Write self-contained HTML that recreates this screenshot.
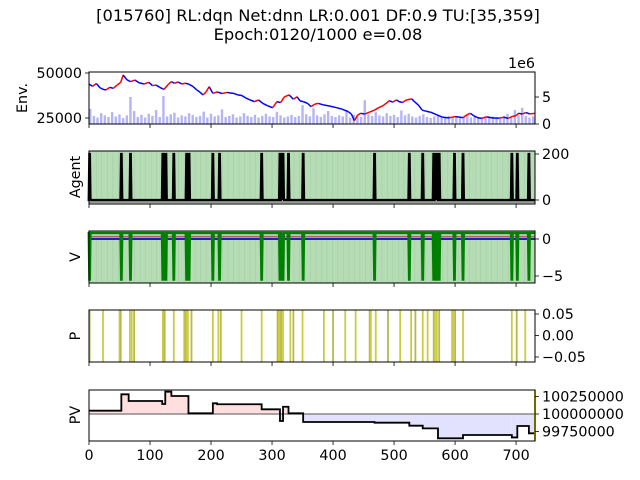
<!DOCTYPE html>
<html><head><meta charset="utf-8"><style>
body{margin:0;background:#fff}
svg{display:block;font-family:"DejaVu Sans","Liberation Sans",sans-serif}
</style></head><body>
<svg id="c" width="640" height="480" viewBox="0 0 640 480">
<text x="318" y="21" font-size="16.3" text-anchor="middle">[015760] RL:dqn Net:dnn LR:0.001 DF:0.9 TU:[35,359]</text>
<text x="318" y="40" font-size="16.3" text-anchor="middle">Epoch:0120/1000 e=0.08</text>
</svg>
<script>
// ---- data ----
const priceIdx=[0,6,12,18,24,28,34,40,46,52,56,62,68,75,82,90,98,104,110,116,123,130,135,140,146,152,158,163,170,176,182,187,192,197,203,210,218,226,232,237,244,250,256,263,271,278,285,292,301,308,314,320,328,335,341,346,351,358,364,370,376,385,395,405,415,425,430,435,440,445,452,460,468,475,482,488,492,498,504,508,514,520,529,534,540,546,552,560,570,580,590,600,613,620,625,630,636,643,652,662,672,680,687,694,700,704,710,716,722,731];
const priceVal=[43900,42600,44200,41800,40800,40600,42000,41500,43300,44800,48900,46300,45200,46100,44600,43900,44800,43000,43300,42000,40900,43700,45200,44300,45000,43900,44300,43900,42600,40800,39300,37800,39600,42400,38700,39500,38600,39200,38900,38700,37800,37600,36300,35200,34100,35000,33100,31900,30700,34100,33500,36700,37800,35400,36800,34500,34100,33200,31300,32700,33100,32200,31600,30800,29900,28500,27200,23500,26500,27600,27200,28300,29400,30800,31900,33400,34600,33800,35100,34100,33600,35000,35600,33900,32100,29400,28800,28200,26800,25400,25100,25800,25200,26900,27600,26400,25300,24800,25600,25000,24900,25400,24800,25900,26300,27600,27200,28000,27300,27600];
const volume=[2.8,1.5,1.2,2.0,1.6,1.3,2.2,1.4,1.8,1.1,1.6,5.0,2.4,1.3,1.7,1.2,1.9,1.5,2.6,1.3,5.2,1.4,1.8,2.1,1.2,1.6,1.4,2.0,1.7,1.3,1.5,2.3,1.2,1.9,1.4,1.6,2.7,1.3,1.5,1.8,1.2,1.4,2.0,1.5,1.3,1.7,1.2,1.5,1.9,1.4,1.3,2.2,1.6,1.2,1.4,1.7,1.3,1.5,3.5,1.8,1.4,2.9,1.6,1.3,1.8,2.4,1.5,1.3,1.6,1.4,2.6,1.2,1.7,1.4,1.3,4.4,1.8,1.5,2.2,1.6,1.4,2.0,1.5,1.7,1.3,2.5,1.6,1.9,1.4,1.2,1.5,1.8,1.3,1.1,1.4,1.6,1.2,1.3,1.5,1.2,1.4,1.1,1.3,1.6,1.2,1.4,1.1,1.3,1.5,1.2,1.4,1.2,1.3,1.5,1.9,1.4,2.6,1.6,3.0,1.5,1.2,1.4];
const volStep=6;
const tradeIdx=[1,53,68,121,122,124,126,139,160,162,164,203,214,283,313,315,318,327,351,468,525,547,565,567,570,574,599,613,693,702,721];
const probIdx=[1,23,50,52,67,70,74,121,122,124,139,156,158,160,162,168,203,212,216,250,283,309,311,313,315,318,330,335,350,385,400,420,437,460,462,470,490,510,528,535,547,555,565,567,570,574,595,597,600,613,693,701,715];
const pvStart=[0,53,65,120,125,135,163,203,210,283,313,318,327,351,468,525,547,572,613,693,702,721];
const pvVal=[100047000,100281000,100186000,100143000,100319000,100257000,100010000,100153000,100139000,100067000,99900000,100104000,100010000,99886000,99876000,99833000,99795000,99653000,99700000,99665000,99829000,99724000];
const xTicks=[0,100,200,300,400,500,600,700];

const svg=document.getElementById('c');
const NS='http://www.w3.org/2000/svg';
function el(t,a,p){const e=document.createElementNS(NS,t);for(const k in a)e.setAttribute(k,a[k]);(p||svg).appendChild(e);return e;}
const L=89,R=535,XMAX=731,FS=14.3;
const X=i=>L+i*(R-L)/XMAX;
const panels=[[72,124],[151,204],[231,283],[310,362],[390,441]];
function lin(d0,d1,p0,p1){return v=>p0+(v-d0)*(p1-p0)/(d1-d0);}

panels.forEach(pp=>{
  for(const t of xTicks){
    const tk=el('line',{x1:X(t),x2:X(t),y1:pp[1],y2:pp[1]+4,stroke:'#000','stroke-width':0.8});
    
    
  }
});

// Panel 1
const Py=lin(50000,25000,73,118), Vy=lin(0,5,124,97);
const g1=el('g',{});


volume.forEach((v,j)=>{
  const b=el('rect',{x:X(j*volStep),y:Vy(v),width:2.4,height:124-Vy(v),fill:'#b4b4f6'},g1);
  
  
});
for(let j=0;j<priceIdx.length-1;j++){
  const s=el('line',{x1:X(priceIdx[j]),y1:Py(priceVal[j]),x2:X(priceIdx[j+1]),y2:Py(priceVal[j+1]),stroke:priceVal[j+1]>priceVal[j]?'#f00':'#00f','stroke-width':1.5},g1);
  
  
}
[[50000,'50000'],[25000,'25000']].forEach(([v,t])=>{
  el('line',{x1:L-4,x2:L,y1:Py(v),y2:Py(v),stroke:'#000','stroke-width':0.8});
  const tx=el('text',{x:L-7,y:Py(v)+5,'font-size':FS,'text-anchor':'end'});tx.textContent=t;
  
  
});
[[0,'0'],[5,'5']].forEach(([v,t])=>{
  el('line',{x1:R,x2:R+4,y1:Vy(v),y2:Vy(v),stroke:'#000','stroke-width':0.8});
  const tx=el('text',{x:R+7,y:Vy(v)+5,'font-size':FS});tx.textContent=t;
  
  
});
{const t=el('text',{x:535,y:68,'font-size':FS,'text-anchor':'end'});t.textContent='1e6';
}

// Panel 2 Agent
const Ay=lin(0,200,200,154);
el('rect',{x:L,y:151,width:R-L,height:53,fill:'#b6dcb6'});
for(let i=3;i<XMAX;i+=9) el('line',{x1:X(i),x2:X(i),y1:151,y2:204,stroke:'#a6cfa6','stroke-width':0.6});
el('rect',{x:L,y:201,width:R-L,height:2,fill:'#999'});
{let d=`M${X(0)},${Ay(0)}`;
 for(const t of tradeIdx){d+=` L${X(t-1.5)},${Ay(0)} L${X(t-0.5)},${Ay(200)} L${X(t+0.5)},${Ay(200)} L${X(t+1.5)},${Ay(0)}`;}
 d+=` L${X(XMAX)},${Ay(0)}`;
 const p=el('path',{d,fill:'none',stroke:'#000','stroke-width':2.2});
 }
[[200,'200'],[0,'0']].forEach(([v,t])=>{
  el('line',{x1:R,x2:R+4,y1:Ay(v),y2:Ay(v),stroke:'#000','stroke-width':0.8});
  const tx=el('text',{x:R+7,y:Ay(v)+5,'font-size':FS});tx.textContent=t;
  
});

// Panel 3 V
const Vv=lin(0,-5,239,276);
el('rect',{x:L,y:231,width:R-L,height:52,fill:'#b6dcb6'});
for(let i=3;i<XMAX;i+=9) el('line',{x1:X(i),x2:X(i),y1:231,y2:283,stroke:'#a6cfa6','stroke-width':0.6});
el('line',{x1:L,x2:R,y1:233,y2:233,stroke:'#3a9a3a','stroke-width':2});
el('line',{x1:L,x2:R,y1:235.5,y2:235.5,stroke:'#b0c8b0','stroke-width':2});
el('line',{x1:L,x2:R,y1:Vv(0.3),y2:Vv(0.3),stroke:'#b06060','stroke-width':1.5});
el('line',{x1:L,x2:R,y1:Vv(0),y2:Vv(0),stroke:'#2020c0','stroke-width':2});
{let d=`M${X(0)},233`;
 for(const t of tradeIdx){d+=` L${X(t-1.5)},233 L${X(t-0.5)},${Vv(-5.5)} L${X(t+0.5)},${Vv(-5.5)} L${X(t+1.5)},233`;}
 d+=` L${X(XMAX)},233`;
 const p=el('path',{d,fill:'none',stroke:'#008000','stroke-width':2.2});
 }
[[0,'0'],[-5,'\u22125']].forEach(([v,t])=>{
  el('line',{x1:R,x2:R+4,y1:Vv(v),y2:Vv(v),stroke:'#000','stroke-width':0.8});
  const tx=el('text',{x:R+7,y:Vv(v)+5,'font-size':FS});tx.textContent=t;
  
});

// Panel 4 P
const Pp=lin(0.05,-0.05,314,357);
probIdx.forEach((t,j)=>{
  const l=el('line',{x1:X(t),x2:X(t),y1:310,y2:362,stroke:j%3==0?'#b8b850':'#cccc40','stroke-width':1.8});
  
});
[[0.05,'0.05'],[0,'0.00'],[-0.05,'\u22120.05']].forEach(([v,t])=>{
  el('line',{x1:R,x2:R+4,y1:Pp(v),y2:Pp(v),stroke:'#000','stroke-width':0.8});
  const tx=el('text',{x:R+7,y:Pp(v)+5,'font-size':FS});tx.textContent=t;
  
});

// Panel 5 PV
const Qy=lin(100000000,100250000,414,396.5);
{let pts=[];
 pvStart.forEach((s,j)=>{const e=j+1<pvStart.length?pvStart[j+1]:XMAX;pts.push([X(s),Qy(pvVal[j])],[X(e),Qy(pvVal[j])]);});
 pvStart.forEach((s,j)=>{const e=j+1<pvStart.length?pvStart[j+1]:XMAX;const y=Qy(pvVal[j]);const b=Qy(1e8);
   const f=el('rect',{x:X(s),y:Math.min(y,b),width:X(e)-X(s),height:Math.abs(y-b),fill:pvVal[j]>1e8?'#ffdede':'#e2e2ff'});
   });
 el('line',{x1:L,x2:R,y1:Qy(1e8),y2:Qy(1e8),stroke:'#888','stroke-width':1.5});
 const p=el('path',{d:'M'+pts.map(p=>p.join(',')).join(' L'),fill:'none',stroke:'#000','stroke-width':1.8});
 }
el('line',{x1:R,x2:R,y1:390,y2:441,stroke:'#d8d800','stroke-width':2});
[[100250000,'100250000'],[100000000,'100000000'],[99750000,'99750000']].forEach(([v,t])=>{
  el('line',{x1:R,x2:R+4,y1:Qy(v),y2:Qy(v),stroke:'#000','stroke-width':0.8});
  const tx=el('text',{x:R+7,y:Qy(v)+5,'font-size':FS});tx.textContent=t;
  
});
xTicks.forEach(t=>{const tx=el('text',{x:X(t),y:460,'font-size':FS,'text-anchor':'middle'});tx.textContent=t;
  });

panels.forEach(pp=>{const r=el('rect',{x:L,y:pp[0],width:R-L,height:pp[1]-pp[0],fill:'none',stroke:'#000','stroke-width':1});
  });
[['Env.',27,98],['Agent',80,177],['V',80,257],['P',80,336],['PV',80,415]].forEach(([t,x,y])=>{
  const tx=el('text',{x,y,'font-size':FS,'text-anchor':'middle',transform:`rotate(-90 ${x} ${y})`});tx.textContent=t;
  });
</script>
</body></html>
